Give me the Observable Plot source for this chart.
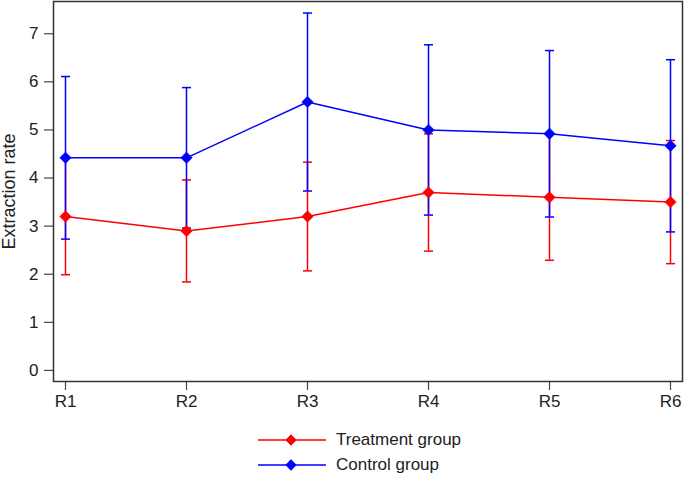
<!DOCTYPE html>
<html>
<head>
<meta charset="utf-8">
<script src="https://cdn.jsdelivr.net/npm/d3@7"></script>
<script src="https://cdn.jsdelivr.net/npm/@observablehq/plot@0.6"></script>
<style>
  body { margin: 0; background: #fff; font-family: "Liberation Sans", Arial, Helvetica, sans-serif; }
  #legend { position: relative; height: 57px; }
  .item { position: absolute; left: 258px; display: flex; align-items: center; font-size: 17px; color: #222; }
  .item span { margin-left: 10px; }
</style>
</head>
<body>
<div id="chart"></div>
<div id="legend"></div>
<script>
const categories = ["R1", "R2", "R3", "R4", "R5", "R6"];
const treatmentMean = [3.2, 2.9, 3.2, 3.7, 3.6, 3.5];
const treatmentSD = [1.21, 1.06, 1.13, 1.22, 1.31, 1.28];
const controlMean = [4.42, 4.42, 5.58, 5.0, 4.92, 4.67];
const controlSD = [1.69, 1.46, 1.85, 1.77, 1.73, 1.79];
const yTicks = [0, 1, 2, 3, 4, 5, 6, 7];
const yLabel = "Extraction rate";
const groups = [
  {name: "Treatment group", color: "#ff0000", mean: treatmentMean, sd: treatmentSD},
  {name: "Control group", color: "#0000ff", mean: controlMean, sd: controlSD}
];

function rows(g) {
  return categories.map((c, i) => ({cat: c, y: g.mean[i], lo: g.mean[i] - g.sd[i], hi: g.mean[i] + g.sd[i]}));
}
const tr = rows(groups[0]);
const ct = rows(groups[1]);

const cap = {
  draw(context, size) {
    const w = Math.sqrt(size / Math.PI);
    context.moveTo(-w, 0);
    context.lineTo(w, 0);
  }
};

function errorMarks(data, color) {
  return [
    Plot.ruleX(data, {x: "cat", y1: "lo", y2: "hi", stroke: color, strokeWidth: 1.5}),
    Plot.dot(data, {x: "cat", y: "lo", symbol: cap, r: 4.5, stroke: color, fill: "none", strokeWidth: 1.5}),
    Plot.dot(data, {x: "cat", y: "hi", symbol: cap, r: 4.5, stroke: color, fill: "none", strokeWidth: 1.5}),
    Plot.line(data, {x: "cat", y: "y", stroke: color, strokeWidth: 1.5})
  ];
}
function diamonds(data, color) {
  return Plot.dot(data, {x: "cat", y: "y", symbol: "square", rotate: 45, r: 4.6, fill: color, stroke: color, strokeWidth: 0.5});
}

const font = "'Liberation Sans', Arial, Helvetica, sans-serif";
const chart = Plot.plot({
  width: 685,
  height: 420,
  marginLeft: 53,
  marginRight: 3,
  marginTop: 1,
  marginBottom: 39,
  style: {fontSize: "17px", fontFamily: font, color: "#222", background: "#fff"},
  x: {type: "point", domain: categories, padding: 0.09},
  y: {domain: [-0.23, 7.67]},
  marks: [
    Plot.axisY({ticks: yTicks, tickSize: 9, tickPadding: 6, fontSize: 17, fill: "#222", label: null, stroke: "#444", strokeWidth: 1.2}),
    Plot.axisX({tickSize: 9, tickPadding: 4, fontSize: 17, fill: "#222", label: null, stroke: "#444", strokeWidth: 1.2}),
    Plot.text([yLabel], {frameAnchor: "left", text: d => d, rotate: -90, dx: -44, fontSize: 18, fill: "#222", textAnchor: "middle", lineAnchor: "middle"}),
    ...errorMarks(tr, groups[0].color),
    ...errorMarks(ct, groups[1].color),
    diamonds(ct, groups[1].color),
    diamonds(tr, groups[0].color),
    Plot.frame({stroke: "#333", strokeWidth: 1.5})
  ]
});
document.getElementById("chart").appendChild(chart);

const legend = document.getElementById("legend");
groups.forEach((g, i) => {
  const div = document.createElement("div");
  div.className = "item";
  div.style.top = (i * 25 + 10) + "px";
  div.innerHTML = `<svg width="68" height="14"><line x1="0" y1="7" x2="68" y2="7" stroke="${g.color}" stroke-width="1.5"/><rect x="29" y="3" width="8" height="8" transform="rotate(45 33 7)" fill="${g.color}"/></svg><span>${g.name}</span>`;
  legend.appendChild(div);
});
</script>
</body>
</html>
